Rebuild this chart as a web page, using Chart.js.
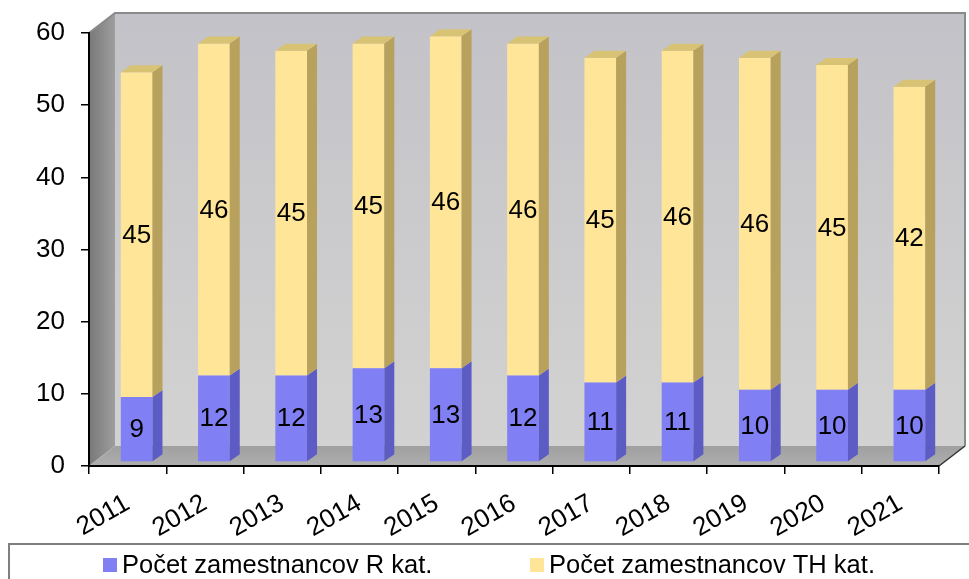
<!DOCTYPE html>
<html><head><meta charset="utf-8">
<script src="https://cdn.jsdelivr.net/npm/chart.js@4"></script>
<style>html,body{margin:0;padding:0;background:#fff}#wrap{width:969px;height:579px;position:relative}</style>
</head><body><div id="wrap"><canvas id="c" width="969" height="579"></canvas></div>
<script>
const categories = ['2011','2012','2013','2014','2015','2016','2017','2018','2019','2020','2021'];
const seriesR = [9,12,12,13,13,12,11,11,10,10,10];
const seriesTH = [45,46,45,45,46,46,45,46,46,45,42];
const yTicks = [0,10,20,30,40,50,60];
const seriesNames = ['Počet zamestnancov R kat.', 'Počet zamestnancov TH kat.'];

const FONT = "'Liberation Sans', Arial, sans-serif";
const COLORS = {
  R: {front:'#8080f4', side:'#5c5cc4', top:'#6a6ad8'},
  TH:{front:'#ffe597', side:'#b8a15c', top:'#d8c274'}
};
const WALL_DX = 26, WALL_DY = 20;   // depth of the 3D box
const BAR_OX = 9, BAR_OY = -4;      // front face of bars within depth
const BAR_DX = 10, BAR_DY = 7;      // bar depth

const bar3d = {
  id:'bar3d',
  beforeDraw(chart){
    const ctx = chart.ctx, a = chart.chartArea;
    const L=a.left, R=a.right, T=a.top, B=a.bottom;
    ctx.save();
    let g = ctx.createLinearGradient(0, T-WALL_DY, 0, B-WALL_DY);
    g.addColorStop(0,'#c2c2c8'); g.addColorStop(0.5,'#cbcbcd'); g.addColorStop(1,'#d2d2d2');
    ctx.fillStyle = g;
    ctx.fillRect(L+WALL_DX, T-WALL_DY, R-L, B-T);
    g = ctx.createLinearGradient(L,0,L+WALL_DX,0);
    g.addColorStop(0,'#787878'); g.addColorStop(1,'#9e9e9e');
    ctx.fillStyle = g;
    ctx.beginPath(); ctx.moveTo(L,T); ctx.lineTo(L+WALL_DX,T-WALL_DY); ctx.lineTo(L+WALL_DX,B-WALL_DY); ctx.lineTo(L,B); ctx.closePath(); ctx.fill();
    g = ctx.createLinearGradient(0,B-WALL_DY,0,B);
    g.addColorStop(0,'#a0a0a0'); g.addColorStop(1,'#aeaeae');
    ctx.fillStyle = g;
    ctx.beginPath(); ctx.moveTo(L,B); ctx.lineTo(R,B); ctx.lineTo(R+WALL_DX,B-WALL_DY); ctx.lineTo(L+WALL_DX,B-WALL_DY); ctx.closePath(); ctx.fill();
    ctx.strokeStyle = '#8a8a8a'; ctx.lineWidth = 2;
    ctx.beginPath(); ctx.moveTo(L,T); ctx.lineTo(L+WALL_DX,T-WALL_DY); ctx.lineTo(R+WALL_DX,T-WALL_DY); ctx.lineTo(R+WALL_DX,B-WALL_DY); ctx.stroke();
    ctx.strokeStyle = '#333'; ctx.lineWidth = 1.5;
    ctx.beginPath(); ctx.moveTo(R,B); ctx.lineTo(R+WALL_DX,B-WALL_DY); ctx.stroke();
    ctx.restore();
  },
  beforeDatasetsDraw(chart){ chart.ctx.save(); chart.ctx.translate(BAR_OX, BAR_OY); },
  afterDatasetsDraw(chart){
    const ctx = chart.ctx;
    const n = chart.data.datasets.length;
    chart.data.datasets.forEach((ds,i)=>{
      const meta = chart.getDatasetMeta(i);
      meta.data.forEach((el)=>{
        const p = el.getProps(['x','y','base','width'], true);
        const l = p.x - p.width/2, r = p.x + p.width/2;
        ctx.fillStyle = ds.sideColor;
        ctx.beginPath(); ctx.moveTo(r,p.y); ctx.lineTo(r+BAR_DX,p.y-BAR_DY); ctx.lineTo(r+BAR_DX,p.base-BAR_DY); ctx.lineTo(r,p.base); ctx.closePath(); ctx.fill();
        if (i === n-1){
          ctx.fillStyle = ds.topColor;
          ctx.beginPath(); ctx.moveTo(l,p.y); ctx.lineTo(r,p.y); ctx.lineTo(r+BAR_DX,p.y-BAR_DY); ctx.lineTo(l+BAR_DX,p.y-BAR_DY); ctx.closePath(); ctx.fill();
        }
      });
    });
    ctx.fillStyle = '#000'; ctx.font = '26px ' + FONT; ctx.textAlign='center'; ctx.textBaseline='middle';
    chart.data.datasets.forEach((ds,i)=>{
      const meta = chart.getDatasetMeta(i);
      meta.data.forEach((el,j)=>{
        const p = el.getProps(['x','y','base'], true);
        ctx.fillText(String(ds.data[j]), p.x, (p.y+p.base)/2 + 1);
      });
    });
    ctx.restore();
  },
  afterDraw(chart){
    const ctx = chart.ctx;
    ctx.save();
    ctx.strokeStyle = '#7f7f7f'; ctx.lineWidth = 2;
    ctx.strokeRect(9, 544, 990, 60);
    const xs = [103, 530];
    ctx.font = '25.5px ' + FONT; ctx.textAlign='left'; ctx.textBaseline='alphabetic';
    chart.data.datasets.forEach((ds,i)=>{
      ctx.fillStyle = ds.backgroundColor;
      ctx.fillRect(xs[i], 558, 14, 14);
      ctx.fillStyle = '#000';
      ctx.fillText(ds.label, xs[i]+19, 573);
    });
    ctx.restore();
  }
};

new Chart(document.getElementById('c'), {
  type:'bar',
  data:{
    labels: categories,
    datasets:[
      {label: seriesNames[0], data: seriesR, backgroundColor: COLORS.R.front, sideColor: COLORS.R.side, topColor: COLORS.R.top, categoryPercentage:1, barPercentage:0.41, clip:false},
      {label: seriesNames[1], data: seriesTH, backgroundColor: COLORS.TH.front, sideColor: COLORS.TH.side, topColor: COLORS.TH.top, categoryPercentage:1, barPercentage:0.41, clip:false}
    ]
  },
  options:{
    responsive:false, animation:false, devicePixelRatio:1,
    layout:{padding:{left:0,right:30,top:33,bottom:0}},
    plugins:{legend:{display:false}, tooltip:{enabled:false}},
    scales:{
      x:{stacked:true,
         grid:{display:true, drawOnChartArea:false, drawTicks:true, tickLength:8, color:'#000', lineWidth:1.5, offset:true},
         border:{display:true, color:'#000', width:2},
         ticks:{color:'#000', font:{family:FONT, size:26}, maxRotation:30, minRotation:30, padding:14, autoSkip:false},
         afterFit(s){ s.height = 113; }},
      y:{stacked:true, min:0, max:60,
         afterBuildTicks(s){ s.ticks = yTicks.map(v=>({value:v})); },
         ticks:{color:'#000', font:{family:FONT, size:26}, padding:16},
         grid:{display:true, drawOnChartArea:false, tickLength:8, color:'#000', lineWidth:1.5},
         border:{display:true, color:'#000', width:2},
         afterFit(s){ s.width = 89; }}
    }
  },
  plugins:[bar3d]
});
</script></body></html>
